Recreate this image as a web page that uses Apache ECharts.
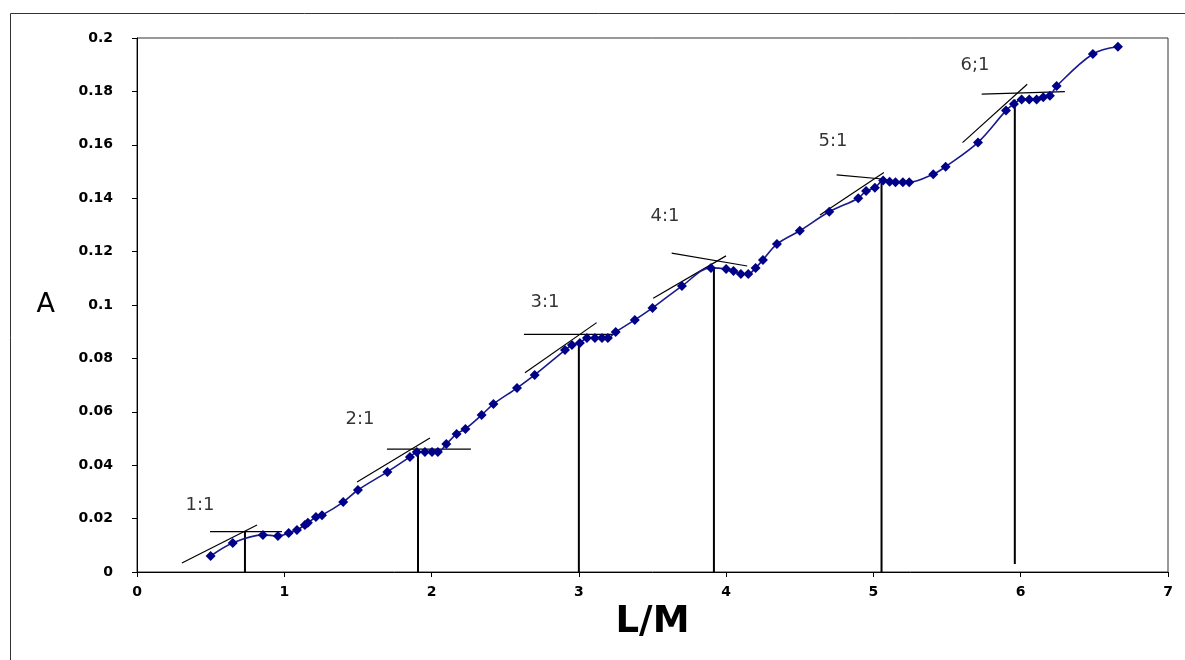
<!DOCTYPE html>
<html>
<head>
<meta charset="utf-8">
<script src="https://cdn.jsdelivr.net/npm/echarts@6/dist/echarts.min.js"></script>
<style>
  html, body { margin: 0; padding: 0; background: #fff; }
  #chart { width: 1185px; height: 660px; }
</style>
</head>
<body>
<div id="chart"></div>
<script>
// Absorbance A against ligand/metal ratio L/M
const lmValues = [0.50, 0.65, 0.855, 0.957, 1.03, 1.086, 1.14, 1.16, 1.215, 1.256, 1.40, 1.50,
  1.70, 1.853, 1.90, 1.955, 2.003, 2.043, 2.10, 2.17, 2.23, 2.34, 2.42, 2.58, 2.70,
  2.906, 2.953, 3.007, 3.055, 3.109, 3.157, 3.197, 3.25, 3.38, 3.50, 3.70,
  3.897, 4.0, 4.05, 4.10, 4.15, 4.20, 4.25, 4.345, 4.50, 4.70,
  4.897, 4.95, 5.01, 5.066, 5.11, 5.15, 5.20, 5.243, 5.406, 5.49, 5.71,
  5.90, 5.954, 6.006, 6.058, 6.108, 6.153, 6.198, 6.244, 6.49, 6.66];
const aValues = [0.006, 0.0109, 0.0139, 0.0135, 0.0146, 0.0157, 0.0176, 0.0184, 0.0206, 0.0213, 0.0262, 0.0307,
  0.0375, 0.0431, 0.0449, 0.0449, 0.0449, 0.0449, 0.0479, 0.0517, 0.0536, 0.0588, 0.0629, 0.0689, 0.0738,
  0.0831, 0.0850, 0.0858, 0.0876, 0.0876, 0.0876, 0.0876, 0.0899, 0.0944, 0.0989, 0.1071,
  0.1139, 0.1135, 0.1127, 0.1116, 0.1116, 0.1139, 0.1169, 0.1228, 0.1278, 0.1349,
  0.1400, 0.1427, 0.1439, 0.1466, 0.1462, 0.1460, 0.1460, 0.1460, 0.1490, 0.1518, 0.1609,
  0.1728, 0.1753, 0.1770, 0.1770, 0.1770, 0.1778, 0.1784, 0.1820, 0.1940, 0.1967];

// Stoichiometry labels and where they sit
const ratioLabels = ['1:1', '2:1', '3:1', '4:1', '5:1', '6;1'];
const ratioLabelPos = [[0.428, 0.0251], [1.514, 0.0573], [2.77, 0.1011], [3.585, 0.1333], [4.725, 0.1614], [5.69, 0.1899]];

// Tangent construction lines (two per break point)
const tangentLines = [
  [[0.496, 0.0151], [0.984, 0.0151]], [[0.305, 0.0034], [0.815, 0.0176]],
  [[1.697, 0.0460], [2.267, 0.0460]], [[1.494, 0.0337], [1.989, 0.0502]],
  [[2.627, 0.0890], [3.25, 0.0890]], [[2.634, 0.0746], [3.121, 0.0934]],
  [[3.63, 0.1194], [4.143, 0.1146]], [[3.505, 0.1025], [3.999, 0.1184]],
  [[4.75, 0.1487], [5.078, 0.1471]], [[4.637, 0.1337], [5.071, 0.1496]],
  [[5.735, 0.1790], [6.30, 0.1799]], [[5.605, 0.1608], [6.044, 0.1827]]
];
// Drop lines from the intersections to the L/M axis
const dropLines = [
  [[0.733, 0], [0.733, 0.0151]],
  [[1.908, 0], [1.908, 0.0449]],
  [[3.0, 0], [3.0, 0.0858]],
  [[3.917, 0], [3.917, 0.1142]],
  [[5.055, 0], [5.055, 0.1462]],
  [[5.96, 0.003], [5.96, 0.177]]
];

const xTickLabels = ['0', '1', '2', '3', '4', '5', '6', '7'];
const yTickLabels = ['0', '0.02', '0.04', '0.06', '0.08', '0.1', '0.12', '0.14', '0.16', '0.18', '0.2'];

const chart = echarts.init(document.getElementById('chart'), null, { renderer: 'canvas' });

const wideFont = 'DejaVu Sans, Verdana, sans-serif';
const axisFont = { fontFamily: wideFont, fontWeight: 'bold', fontSize: 14, color: '#000' };

const series = [];
tangentLines.forEach(seg => series.push({
  type: 'line', data: seg, symbol: 'none', silent: true,
  lineStyle: { color: '#000', width: 1.2 }, z: 3
}));
dropLines.forEach(seg => series.push({
  type: 'line', data: seg, symbol: 'none', silent: true,
  lineStyle: { color: '#000', width: 2 }, z: 3
}));
series.push({
  type: 'line',
  data: lmValues.map((x, i) => [x, aValues[i]]),
  smooth: 0.35,
  symbol: 'diamond',
  symbolSize: 10,
  lineStyle: { color: '#1a1a8f', width: 1.6 },
  itemStyle: { color: '#000088' },
  z: 4
});
series.push({
  type: 'scatter',
  data: ratioLabelPos.map((p, i) => ({ value: p, name: ratioLabels[i] })),
  symbolSize: 0,
  silent: true,
  label: {
    show: true, position: 'inside', formatter: p => p.name,
    fontFamily: wideFont, fontSize: 18, color: '#000', textBorderColor: 'transparent', textBorderWidth: 0
  }
});

chart.setOption({
  animation: false,
  backgroundColor: '#fff',
  grid: { left: 137, right: 17, top: 38, bottom: 88, show: true, borderColor: '#333', borderWidth: 1 },
  xAxis: {
    type: 'value', min: 0, max: 7, interval: 1,
    name: 'L/M', nameLocation: 'middle', nameGap: 31,
    nameTextStyle: { fontFamily: wideFont, fontWeight: 'bold', fontSize: 37, color: '#000' },
    axisLine: { lineStyle: { color: '#000', width: 1 } },
    axisTick: { show: true, inside: false, length: 5, lineStyle: { color: '#000' } },
    axisLabel: Object.assign({ margin: 13, formatter: (v) => xTickLabels[Math.round(v)] }, axisFont),
    splitLine: { show: false }
  },
  yAxis: {
    type: 'value', min: 0, max: 0.2, interval: 0.02,
    name: 'A', nameLocation: 'middle', nameRotate: 0, nameGap: 82,
    nameTextStyle: { fontFamily: wideFont, fontSize: 27, color: '#000', align: 'right' },
    axisLine: { show: true, lineStyle: { color: '#000', width: 1 } },
    axisTick: { show: true, inside: false, length: 5, lineStyle: { color: '#000' } },
    axisLabel: Object.assign({ margin: 24, formatter: (v) => yTickLabels[Math.round(v / 0.02)] }, axisFont),
    splitLine: { show: false }
  },
  graphic: [{
    type: 'rect', silent: true, z: -1,
    shape: { x: 10.5, y: 13.5, width: 1190, height: 660 },
    style: { fill: 'none', stroke: '#333', lineWidth: 1 }
  }],
  series: series
});
</script>
</body>
</html>
